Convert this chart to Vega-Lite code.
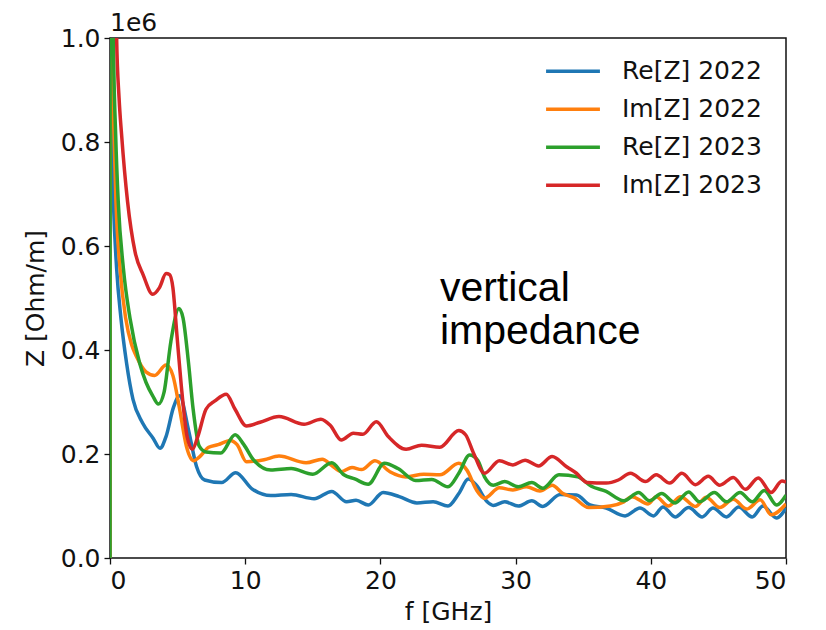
{
  "$schema": "https://vega.github.io/schema/vega-lite/v6.json",
  "width": 676,
  "height": 520,
  "autosize": {"type": "none"},
  "padding": {"left": 110, "top": 38, "right": 40, "bottom": 72},
  "background": "white",
  "config": {
    "font": "DejaVu Sans",
    "view": {"stroke": "#111111", "strokeWidth": 1.5},
    "axis": {
      "grid": false,
      "domain": false,
      "tickColor": "#111111",
      "tickWidth": 1.3,
      "tickSize": 6,
      "labelFont": "DejaVu Sans",
      "labelFontSize": 25,
      "labelColor": "#111111",
      "labelPadding": 4,
      "titleFont": "DejaVu Sans",
      "titleFontSize": 25,
      "titleFontWeight": "normal",
      "titleColor": "#111111"
    }
  },
  "title": {"text": "1e6", "anchor": "start", "frame": "group", "font": "DejaVu Sans", "fontSize": 25, "fontWeight": "normal", "color": "#111111", "offset": -10},
  "layer": [
    {
      "data": {
        "values": [
          {"s": "Re[Z] 2022", "f": 0, "z": 0},
          {"s": "Re[Z] 2022", "f": 0.01, "z": 3000000},
          {"s": "Re[Z] 2022", "f": 0.05, "z": 1000000},
          {"s": "Re[Z] 2022", "f": 0.12, "z": 813000},
          {"s": "Re[Z] 2022", "f": 0.25, "z": 685000},
          {"s": "Re[Z] 2022", "f": 0.49, "z": 557000},
          {"s": "Re[Z] 2022", "f": 0.81, "z": 461000},
          {"s": "Re[Z] 2022", "f": 1.23, "z": 374000},
          {"s": "Re[Z] 2022", "f": 1.7, "z": 305000},
          {"s": "Re[Z] 2022", "f": 2.4, "z": 260000},
          {"s": "Re[Z] 2022", "f": 3.2, "z": 230000},
          {"s": "Re[Z] 2022", "f": 3.7, "z": 211000},
          {"s": "Re[Z] 2022", "f": 4.15, "z": 234000},
          {"s": "Re[Z] 2022", "f": 4.7, "z": 290000},
          {"s": "Re[Z] 2022", "f": 5.15, "z": 312000},
          {"s": "Re[Z] 2022", "f": 5.8, "z": 247000},
          {"s": "Re[Z] 2022", "f": 6.4, "z": 176000},
          {"s": "Re[Z] 2022", "f": 7.0, "z": 150000},
          {"s": "Re[Z] 2022", "f": 8.26, "z": 145000},
          {"s": "Re[Z] 2022", "f": 9.3, "z": 164000},
          {"s": "Re[Z] 2022", "f": 10.5, "z": 133000},
          {"s": "Re[Z] 2022", "f": 11.9, "z": 120000},
          {"s": "Re[Z] 2022", "f": 13.4, "z": 122000},
          {"s": "Re[Z] 2022", "f": 15.1, "z": 114000},
          {"s": "Re[Z] 2022", "f": 16.4, "z": 128000},
          {"s": "Re[Z] 2022", "f": 17.5, "z": 108000},
          {"s": "Re[Z] 2022", "f": 18.2, "z": 111000},
          {"s": "Re[Z] 2022", "f": 19.1, "z": 102000},
          {"s": "Re[Z] 2022", "f": 20.2, "z": 126000},
          {"s": "Re[Z] 2022", "f": 21.4, "z": 118000},
          {"s": "Re[Z] 2022", "f": 22.7, "z": 106000},
          {"s": "Re[Z] 2022", "f": 23.9, "z": 108000},
          {"s": "Re[Z] 2022", "f": 25.0, "z": 100000},
          {"s": "Re[Z] 2022", "f": 25.8, "z": 124000},
          {"s": "Re[Z] 2022", "f": 26.5, "z": 152000},
          {"s": "Re[Z] 2022", "f": 27.1, "z": 140000},
          {"s": "Re[Z] 2022", "f": 27.9, "z": 108000},
          {"s": "Re[Z] 2022", "f": 28.35, "z": 101000},
          {"s": "Re[Z] 2022", "f": 29.2, "z": 108000},
          {"s": "Re[Z] 2022", "f": 30.2, "z": 100000},
          {"s": "Re[Z] 2022", "f": 31.2, "z": 110000},
          {"s": "Re[Z] 2022", "f": 32.0, "z": 99000},
          {"s": "Re[Z] 2022", "f": 33.3, "z": 122000},
          {"s": "Re[Z] 2022", "f": 34.5, "z": 121000},
          {"s": "Re[Z] 2022", "f": 35.5, "z": 102000},
          {"s": "Re[Z] 2022", "f": 36.7, "z": 96000},
          {"s": "Re[Z] 2022", "f": 38.1, "z": 81000},
          {"s": "Re[Z] 2022", "f": 39.2, "z": 96000},
          {"s": "Re[Z] 2022", "f": 40.2, "z": 81000},
          {"s": "Re[Z] 2022", "f": 40.9, "z": 98000},
          {"s": "Re[Z] 2022", "f": 41.8, "z": 79000},
          {"s": "Re[Z] 2022", "f": 42.8, "z": 97000},
          {"s": "Re[Z] 2022", "f": 43.8, "z": 79000},
          {"s": "Re[Z] 2022", "f": 44.6, "z": 96000},
          {"s": "Re[Z] 2022", "f": 45.6, "z": 79000},
          {"s": "Re[Z] 2022", "f": 46.5, "z": 98000},
          {"s": "Re[Z] 2022", "f": 47.5, "z": 79000},
          {"s": "Re[Z] 2022", "f": 48.3, "z": 100000},
          {"s": "Re[Z] 2022", "f": 49.3, "z": 77000},
          {"s": "Re[Z] 2022", "f": 50, "z": 96000},

          {"s": "Im[Z] 2022", "f": 0, "z": 0},
          {"s": "Im[Z] 2022", "f": 0.02, "z": 3000000},
          {"s": "Im[Z] 2022", "f": 0.12, "z": 1000000},
          {"s": "Im[Z] 2022", "f": 0.3, "z": 813000},
          {"s": "Im[Z] 2022", "f": 0.44, "z": 685000},
          {"s": "Im[Z] 2022", "f": 0.74, "z": 557000},
          {"s": "Im[Z] 2022", "f": 1.16, "z": 461000},
          {"s": "Im[Z] 2022", "f": 1.6, "z": 410000},
          {"s": "Im[Z] 2022", "f": 1.95, "z": 388000},
          {"s": "Im[Z] 2022", "f": 2.66, "z": 358000},
          {"s": "Im[Z] 2022", "f": 3.3, "z": 351000},
          {"s": "Im[Z] 2022", "f": 4.15, "z": 371000},
          {"s": "Im[Z] 2022", "f": 4.65, "z": 351000},
          {"s": "Im[Z] 2022", "f": 5.15, "z": 286000},
          {"s": "Im[Z] 2022", "f": 5.65, "z": 215000},
          {"s": "Im[Z] 2022", "f": 6.2, "z": 187000},
          {"s": "Im[Z] 2022", "f": 6.6, "z": 194000},
          {"s": "Im[Z] 2022", "f": 7.3, "z": 213000},
          {"s": "Im[Z] 2022", "f": 8.0, "z": 218000},
          {"s": "Im[Z] 2022", "f": 8.9, "z": 226000},
          {"s": "Im[Z] 2022", "f": 9.4, "z": 218000},
          {"s": "Im[Z] 2022", "f": 10.1, "z": 185000},
          {"s": "Im[Z] 2022", "f": 11.4, "z": 189000},
          {"s": "Im[Z] 2022", "f": 12.5, "z": 196000},
          {"s": "Im[Z] 2022", "f": 14.5, "z": 183000},
          {"s": "Im[Z] 2022", "f": 15.7, "z": 190000},
          {"s": "Im[Z] 2022", "f": 16.4, "z": 178000},
          {"s": "Im[Z] 2022", "f": 17.1, "z": 166000},
          {"s": "Im[Z] 2022", "f": 17.9, "z": 174000},
          {"s": "Im[Z] 2022", "f": 18.6, "z": 170000},
          {"s": "Im[Z] 2022", "f": 19.6, "z": 187000},
          {"s": "Im[Z] 2022", "f": 20.7, "z": 166000},
          {"s": "Im[Z] 2022", "f": 21.9, "z": 156000},
          {"s": "Im[Z] 2022", "f": 23.2, "z": 161000},
          {"s": "Im[Z] 2022", "f": 24.4, "z": 160000},
          {"s": "Im[Z] 2022", "f": 25.8, "z": 182000},
          {"s": "Im[Z] 2022", "f": 26.4, "z": 169000},
          {"s": "Im[Z] 2022", "f": 27.1, "z": 131000},
          {"s": "Im[Z] 2022", "f": 27.7, "z": 115000},
          {"s": "Im[Z] 2022", "f": 28.8, "z": 135000},
          {"s": "Im[Z] 2022", "f": 29.8, "z": 131000},
          {"s": "Im[Z] 2022", "f": 30.8, "z": 137000},
          {"s": "Im[Z] 2022", "f": 31.8, "z": 129000},
          {"s": "Im[Z] 2022", "f": 32.7, "z": 140000},
          {"s": "Im[Z] 2022", "f": 33.5, "z": 124000},
          {"s": "Im[Z] 2022", "f": 34.3, "z": 116000},
          {"s": "Im[Z] 2022", "f": 35.4, "z": 97000},
          {"s": "Im[Z] 2022", "f": 37.0, "z": 100000},
          {"s": "Im[Z] 2022", "f": 38.0, "z": 108000},
          {"s": "Im[Z] 2022", "f": 38.6, "z": 118000},
          {"s": "Im[Z] 2022", "f": 39.8, "z": 104000},
          {"s": "Im[Z] 2022", "f": 40.4, "z": 118000},
          {"s": "Im[Z] 2022", "f": 41.3, "z": 100000},
          {"s": "Im[Z] 2022", "f": 42.2, "z": 118000},
          {"s": "Im[Z] 2022", "f": 43.3, "z": 99000},
          {"s": "Im[Z] 2022", "f": 44.1, "z": 117000},
          {"s": "Im[Z] 2022", "f": 45.1, "z": 97000},
          {"s": "Im[Z] 2022", "f": 46.1, "z": 113000},
          {"s": "Im[Z] 2022", "f": 47.1, "z": 94000},
          {"s": "Im[Z] 2022", "f": 48.1, "z": 112000},
          {"s": "Im[Z] 2022", "f": 48.9, "z": 83000},
          {"s": "Im[Z] 2022", "f": 50, "z": 104000},

          {"s": "Re[Z] 2023", "f": 0, "z": 0},
          {"s": "Re[Z] 2023", "f": 0.02, "z": 3000000},
          {"s": "Re[Z] 2023", "f": 0.25, "z": 1000000},
          {"s": "Re[Z] 2023", "f": 0.42, "z": 813000},
          {"s": "Re[Z] 2023", "f": 0.61, "z": 685000},
          {"s": "Re[Z] 2023", "f": 0.99, "z": 557000},
          {"s": "Re[Z] 2023", "f": 1.48, "z": 461000},
          {"s": "Re[Z] 2023", "f": 2.2, "z": 374000},
          {"s": "Re[Z] 2023", "f": 2.66, "z": 338000},
          {"s": "Re[Z] 2023", "f": 3.16, "z": 312000},
          {"s": "Re[Z] 2023", "f": 3.58, "z": 296000},
          {"s": "Re[Z] 2023", "f": 4.0, "z": 319000},
          {"s": "Re[Z] 2023", "f": 4.5, "z": 416000},
          {"s": "Re[Z] 2023", "f": 5.1, "z": 480000},
          {"s": "Re[Z] 2023", "f": 5.4, "z": 462000},
          {"s": "Re[Z] 2023", "f": 5.8, "z": 377000},
          {"s": "Re[Z] 2023", "f": 6.15, "z": 286000},
          {"s": "Re[Z] 2023", "f": 6.6, "z": 215000},
          {"s": "Re[Z] 2023", "f": 7.1, "z": 204000},
          {"s": "Re[Z] 2023", "f": 8.2, "z": 202000},
          {"s": "Re[Z] 2023", "f": 9.25, "z": 237000},
          {"s": "Re[Z] 2023", "f": 9.9, "z": 218000},
          {"s": "Re[Z] 2023", "f": 10.6, "z": 189000},
          {"s": "Re[Z] 2023", "f": 11.9, "z": 169000},
          {"s": "Re[Z] 2023", "f": 13.4, "z": 172000},
          {"s": "Re[Z] 2023", "f": 15.0, "z": 161000},
          {"s": "Re[Z] 2023", "f": 16.4, "z": 183000},
          {"s": "Re[Z] 2023", "f": 17.3, "z": 160000},
          {"s": "Re[Z] 2023", "f": 18.1, "z": 152000},
          {"s": "Re[Z] 2023", "f": 19.1, "z": 142000},
          {"s": "Re[Z] 2023", "f": 20.3, "z": 182000},
          {"s": "Re[Z] 2023", "f": 21.3, "z": 172000},
          {"s": "Re[Z] 2023", "f": 22.6, "z": 149000},
          {"s": "Re[Z] 2023", "f": 23.8, "z": 151000},
          {"s": "Re[Z] 2023", "f": 25.0, "z": 137000},
          {"s": "Re[Z] 2023", "f": 25.8, "z": 163000},
          {"s": "Re[Z] 2023", "f": 26.6, "z": 198000},
          {"s": "Re[Z] 2023", "f": 27.2, "z": 188000},
          {"s": "Re[Z] 2023", "f": 27.7, "z": 156000},
          {"s": "Re[Z] 2023", "f": 28.35, "z": 140000},
          {"s": "Re[Z] 2023", "f": 29.2, "z": 147000},
          {"s": "Re[Z] 2023", "f": 30.2, "z": 137000},
          {"s": "Re[Z] 2023", "f": 31.2, "z": 145000},
          {"s": "Re[Z] 2023", "f": 32.0, "z": 134000},
          {"s": "Re[Z] 2023", "f": 33.2, "z": 160000},
          {"s": "Re[Z] 2023", "f": 34.6, "z": 156000},
          {"s": "Re[Z] 2023", "f": 35.6, "z": 138000},
          {"s": "Re[Z] 2023", "f": 36.7, "z": 128000},
          {"s": "Re[Z] 2023", "f": 38.0, "z": 110000},
          {"s": "Re[Z] 2023", "f": 39.1, "z": 126000},
          {"s": "Re[Z] 2023", "f": 39.9, "z": 110000},
          {"s": "Re[Z] 2023", "f": 40.8, "z": 124000},
          {"s": "Re[Z] 2023", "f": 41.8, "z": 106000},
          {"s": "Re[Z] 2023", "f": 42.8, "z": 127000},
          {"s": "Re[Z] 2023", "f": 43.6, "z": 108000},
          {"s": "Re[Z] 2023", "f": 44.7, "z": 126000},
          {"s": "Re[Z] 2023", "f": 45.6, "z": 108000},
          {"s": "Re[Z] 2023", "f": 46.6, "z": 126000},
          {"s": "Re[Z] 2023", "f": 47.5, "z": 108000},
          {"s": "Re[Z] 2023", "f": 48.4, "z": 130000},
          {"s": "Re[Z] 2023", "f": 49.3, "z": 102000},
          {"s": "Re[Z] 2023", "f": 50, "z": 121000},

          {"s": "Im[Z] 2023", "f": 0.02, "z": 3000000},
          {"s": "Im[Z] 2023", "f": 0.49, "z": 1000000},
          {"s": "Im[Z] 2023", "f": 0.67, "z": 885000},
          {"s": "Im[Z] 2023", "f": 0.86, "z": 813000},
          {"s": "Im[Z] 2023", "f": 1.3, "z": 685000},
          {"s": "Im[Z] 2023", "f": 1.85, "z": 589000},
          {"s": "Im[Z] 2023", "f": 2.46, "z": 544000},
          {"s": "Im[Z] 2023", "f": 3.16, "z": 507000},
          {"s": "Im[Z] 2023", "f": 3.66, "z": 520000},
          {"s": "Im[Z] 2023", "f": 4.15, "z": 547000},
          {"s": "Im[Z] 2023", "f": 4.4, "z": 545000},
          {"s": "Im[Z] 2023", "f": 4.65, "z": 520000},
          {"s": "Im[Z] 2023", "f": 4.95, "z": 429000},
          {"s": "Im[Z] 2023", "f": 5.27, "z": 332000},
          {"s": "Im[Z] 2023", "f": 5.7, "z": 234000},
          {"s": "Im[Z] 2023", "f": 6.1, "z": 209000},
          {"s": "Im[Z] 2023", "f": 6.5, "z": 234000},
          {"s": "Im[Z] 2023", "f": 7.1, "z": 286000},
          {"s": "Im[Z] 2023", "f": 7.76, "z": 302000},
          {"s": "Im[Z] 2023", "f": 8.6, "z": 315000},
          {"s": "Im[Z] 2023", "f": 9.25, "z": 286000},
          {"s": "Im[Z] 2023", "f": 10.1, "z": 254000},
          {"s": "Im[Z] 2023", "f": 11.1, "z": 261000},
          {"s": "Im[Z] 2023", "f": 12.5, "z": 272000},
          {"s": "Im[Z] 2023", "f": 14.35, "z": 257000},
          {"s": "Im[Z] 2023", "f": 15.6, "z": 267000},
          {"s": "Im[Z] 2023", "f": 16.3, "z": 255000},
          {"s": "Im[Z] 2023", "f": 17.1, "z": 227000},
          {"s": "Im[Z] 2023", "f": 18.0, "z": 240000},
          {"s": "Im[Z] 2023", "f": 18.7, "z": 238000},
          {"s": "Im[Z] 2023", "f": 19.7, "z": 262000},
          {"s": "Im[Z] 2023", "f": 20.6, "z": 233000},
          {"s": "Im[Z] 2023", "f": 21.9, "z": 209000},
          {"s": "Im[Z] 2023", "f": 23.05, "z": 217000},
          {"s": "Im[Z] 2023", "f": 24.4, "z": 213000},
          {"s": "Im[Z] 2023", "f": 25.8, "z": 245000},
          {"s": "Im[Z] 2023", "f": 26.3, "z": 237000},
          {"s": "Im[Z] 2023", "f": 26.9, "z": 201000},
          {"s": "Im[Z] 2023", "f": 27.7, "z": 163000},
          {"s": "Im[Z] 2023", "f": 28.8, "z": 187000},
          {"s": "Im[Z] 2023", "f": 29.8, "z": 179000},
          {"s": "Im[Z] 2023", "f": 30.7, "z": 188000},
          {"s": "Im[Z] 2023", "f": 31.7, "z": 177000},
          {"s": "Im[Z] 2023", "f": 32.7, "z": 195000},
          {"s": "Im[Z] 2023", "f": 33.8, "z": 175000},
          {"s": "Im[Z] 2023", "f": 34.5, "z": 163000},
          {"s": "Im[Z] 2023", "f": 35.3, "z": 145000},
          {"s": "Im[Z] 2023", "f": 36.7, "z": 144000},
          {"s": "Im[Z] 2023", "f": 37.6, "z": 150000},
          {"s": "Im[Z] 2023", "f": 38.5, "z": 163000},
          {"s": "Im[Z] 2023", "f": 39.6, "z": 147000},
          {"s": "Im[Z] 2023", "f": 40.4, "z": 160000},
          {"s": "Im[Z] 2023", "f": 41.4, "z": 144000},
          {"s": "Im[Z] 2023", "f": 42.3, "z": 163000},
          {"s": "Im[Z] 2023", "f": 43.3, "z": 141000},
          {"s": "Im[Z] 2023", "f": 44.25, "z": 157000},
          {"s": "Im[Z] 2023", "f": 45.1, "z": 140000},
          {"s": "Im[Z] 2023", "f": 46.1, "z": 155000},
          {"s": "Im[Z] 2023", "f": 47.0, "z": 132000},
          {"s": "Im[Z] 2023", "f": 47.95, "z": 154000},
          {"s": "Im[Z] 2023", "f": 48.9, "z": 126000},
          {"s": "Im[Z] 2023", "f": 49.7, "z": 148000},
          {"s": "Im[Z] 2023", "f": 50, "z": 146000}
        ]
      },
      "mark": {"type": "line", "clip": true, "strokeWidth": 3.5, "interpolate": "monotone"},
      "encoding": {
        "x": {
          "field": "f", "type": "quantitative",
          "scale": {"domain": [0, 50], "nice": false, "zero": false},
          "axis": {"title": "f [GHz]", "values": [0, 10, 20, 30, 40, 50], "titlePadding": 6}
        },
        "y": {
          "field": "z", "type": "quantitative",
          "scale": {"domain": [0, 1000000], "nice": false},
          "axis": {"title": "Z [Ohm/m]", "values": [0, 200000, 400000, 600000, 800000, 1000000], "labelExpr": "format(datum.value / 1000000, '.1f')", "titlePadding": 12}
        },
        "color": {
          "field": "s", "type": "nominal",
          "scale": {"domain": ["Re[Z] 2022", "Im[Z] 2022", "Re[Z] 2023", "Im[Z] 2023"], "range": ["#1f77b4", "#ff7f0e", "#2ca02c", "#d62728"]},
          "legend": {
            "title": null, "orient": "none", "legendX": 434, "legendY": 14.5,
            "symbolType": "stroke", "symbolSize": 2900, "symbolStrokeWidth": 3.5,
            "labelFont": "DejaVu Sans", "labelFontSize": 25, "labelColor": "#111111",
            "labelOffset": 20, "rowPadding": 0, "clipHeight": 37.5
          }
        },
        "order": {"field": "f", "type": "quantitative"}
      }
    },
    {
      "data": {"values": [
        {"f": 24.4, "z": 494000, "t": "vertical"},
        {"f": 24.4, "z": 411000, "t": "impedance"}
      ]},
      "mark": {"type": "text", "align": "left", "baseline": "alphabetic", "font": "Liberation Sans", "fontSize": 41, "color": "#000000"},
      "encoding": {
        "x": {"field": "f", "type": "quantitative"},
        "y": {"field": "z", "type": "quantitative"},
        "text": {"field": "t"}
      }
    }
  ]
}
